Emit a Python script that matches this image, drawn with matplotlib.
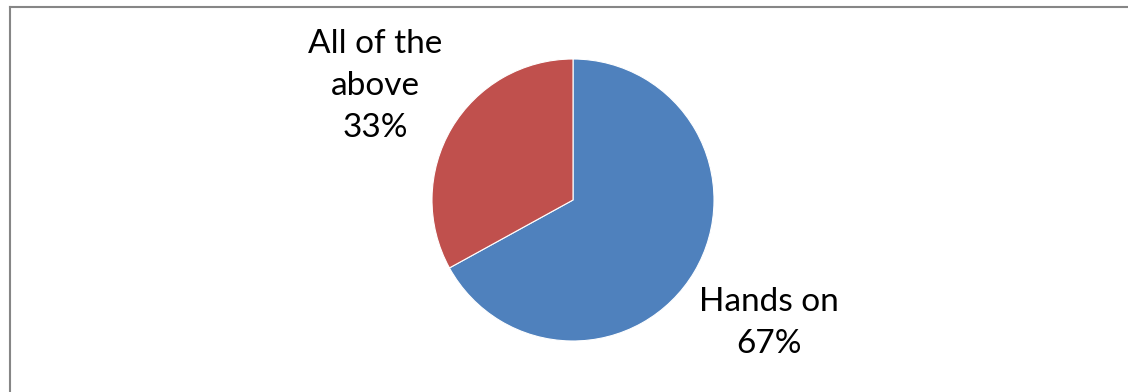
import matplotlib.pyplot as plt
from matplotlib.lines import Line2D

labels = ['Hands on', 'All of the\nabove']
values = [67, 33]
colors = ['#4F81BD', '#C0504D']

W, H = 1128, 392
fig = plt.figure(figsize=(W / 100, H / 100), dpi=100)
fig.patch.set_facecolor('white')

# pie centre at (573, 200) px, radius ~141 px
cx, cy, r = 573, 200, 141
ax = fig.add_axes([(cx - r) / W, (H - cy - r) / H, 2 * r / W, 2 * r / H])
ax.pie(values, colors=colors, startangle=90, counterclock=False,
       wedgeprops=dict(edgecolor='white', linewidth=0.8), radius=1)
ax.set_xlim(-1, 1)
ax.set_ylim(-1, 1)
ax.set_aspect('equal')
ax.axis('off')

# label positions in pie units
label_pos = [(1.39, -0.87), (-1.40, 0.81)]
total = sum(values)
for lab, v, (x, y) in zip(labels, values, label_pos):
    ax.text(x, y, f"{lab}\n{round(100 * v / total)}%", ha='center', va='center',
            fontsize=24, family='Lato', linespacing=1.5, clip_on=False)

# top and left border
fig.add_artist(Line2D([9.5 / W, 1], [1 - 6.5 / H, 1 - 6.5 / H], color='#868686', lw=1.5))
fig.add_artist(Line2D([9.5 / W, 9.5 / W], [0, 1 - 6.5 / H], color='#868686', lw=1.5))

fig.savefig('out.png', dpi=100)
